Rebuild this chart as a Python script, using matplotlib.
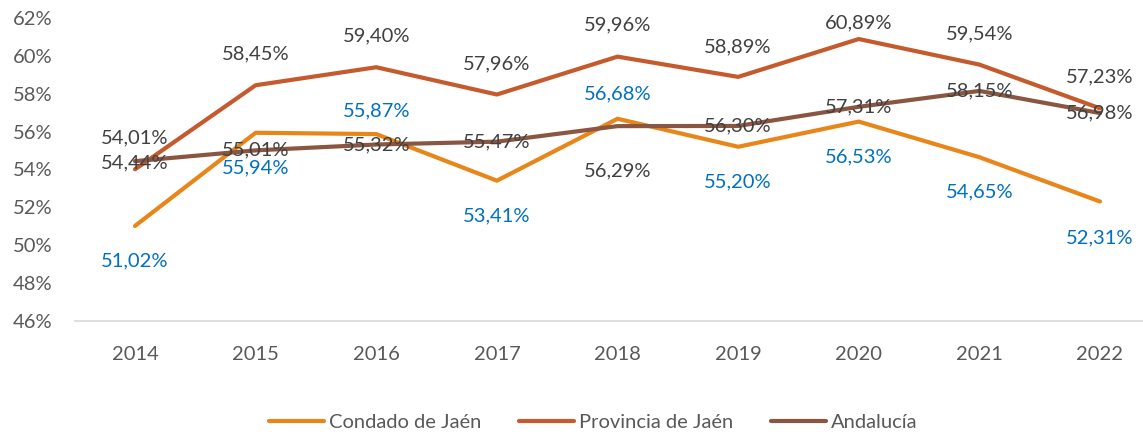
import matplotlib
matplotlib.use("Agg")
import matplotlib.pyplot as plt

# ---------------------------------------------------------------------------
# Data (percent)
# ---------------------------------------------------------------------------
YEARS = ["2014", "2015", "2016", "2017", "2018", "2019", "2020", "2021", "2022"]
CONDADO = [51.02, 55.94, 55.87, 53.41, 56.68, 55.20, 56.53, 54.65, 52.31]
PROVINCIA = [54.01, 58.45, 59.40, 57.96, 59.96, 58.89, 60.89, 59.54, 57.23]
ANDALUCIA = [54.44, 55.01, 55.32, 55.47, 56.29, 56.30, 57.31, 58.15, 56.98]
SERIES_NAMES = ["Condado de Jaén", "Provincia de Jaén", "Andalucía"]
Y_TICKS = [46, 48, 50, 52, 54, 56, 58, 60, 62]

# vertical label offsets (pixels, positive = up)
CONDADO_OFF = [-35, -35, 23, -35, 25, -35, -35, -35, -36]
PROVINCIA_OFF = [31, 31, 31, 31, 32, 30, 16, 31, 31]
ANDALUCIA_OFF = [-2, 0, 0, 0, -45, 0, 0, 0, 0]

COL_CONDADO = "#E8861A"
COL_PROVINCIA = "#C55A2D"
COL_ANDALUCIA = "#8A5642"
COL_BLUE = "#0070C0"
COL_GRAY = "#404040"

plt.rcParams["font.family"] = ["Lato", "DejaVu Sans"]
FS = 14.5


def fmt(v):
    return f"{v:.2f}".replace(".", ",") + "%"


fig = plt.figure(figsize=(11.43, 4.37), dpi=100)
W, H = 1143, 437
# plot area in pixels (right edge runs past the figure, as in the source)
left, right, top, bottom = 74.7, 1160.3, 18, 321
ax = fig.add_axes([left / W, 1 - bottom / H, (right - left) / W, (bottom - top) / H])

x = list(range(len(YEARS)))
series = [
    (CONDADO, COL_CONDADO, COL_BLUE, CONDADO_OFF),
    (PROVINCIA, COL_PROVINCIA, COL_GRAY, PROVINCIA_OFF),
    (ANDALUCIA, COL_ANDALUCIA, COL_GRAY, ANDALUCIA_OFF),
]
handles = []
for (vals, col, lcol, offs), name in zip(series, SERIES_NAMES):
    h, = ax.plot(x, vals, color=col, linewidth=3.0, solid_capstyle="round",
                 solid_joinstyle="round", label=name, clip_on=False)
    handles.append(h)

for vals, col, lcol, offs in series:
    for xi, v, o in zip(x, vals, offs):
        ax.annotate(fmt(v), (xi, v), xytext=(0, o), textcoords="offset pixels",
                    ha="center", va="center", fontsize=FS, color=lcol,
                    annotation_clip=False)

ax.set_xlim(-0.5, len(YEARS) - 0.5)
ax.set_ylim(46, 62)
ax.set_xticks(x)
ax.set_xticklabels(YEARS)
ax.set_yticks(Y_TICKS)
ax.set_yticklabels([f"{t}%" for t in Y_TICKS])
ax.tick_params(axis="both", length=0, labelsize=FS, colors="#595959")
ax.tick_params(axis="x", pad=18)
ax.tick_params(axis="y", pad=16)
for s in ["top", "right", "left"]:
    ax.spines[s].set_visible(False)
ax.spines["bottom"].set_color("#D9D9D9")
ax.spines["bottom"].set_linewidth(1.2)

fig.legend(handles=handles, loc="center", bbox_to_anchor=(0.519, 1 - 422 / H),
           ncol=3, frameon=False, fontsize=FS, handlelength=2.7,
           handletextpad=0.25, columnspacing=1.9, labelcolor="#595959")

fig.savefig("out.png", dpi=100)
